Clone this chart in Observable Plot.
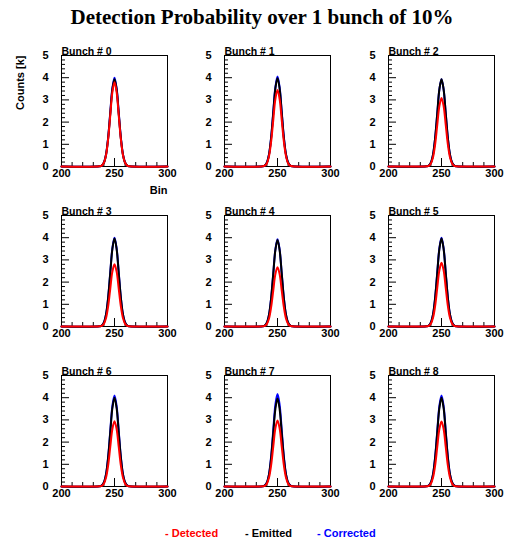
<!DOCTYPE html>
<html>
<head>
<meta charset="utf-8">
<script src="https://cdn.jsdelivr.net/npm/d3@7"></script>
<script src="https://cdn.jsdelivr.net/npm/@observablehq/plot@0.6"></script>
<style>
  html, body { margin: 0; padding: 0; background: white; }
  #root { position: relative; width: 508px; height: 542px; overflow: hidden; background: white; }
  #title { position: absolute; left: 16px; width: 492px; top: 5px; text-align: center;
           font-family: "Liberation Serif", "Times New Roman", serif; font-weight: bold; font-size: 21px; color: #000; }
  .panel { position: absolute; }
  .leg { position: absolute; top: 527px; font-family: "Liberation Sans", Arial, sans-serif; font-weight: bold; font-size: 11px; white-space: nowrap; }
  svg text { font-weight: bold; }
</style>
</head>
<body>
<div id="root">
  <div id="title"></div>
</div>
<script>
// ---- data ----
const bins = [200, 236, 238, 240, 242, 244, 246, 248, 250, 252, 254, 256, 258, 260, 262, 264, 300];

const detected = [
  [0,0.01,0.04,0.17,0.51,1.23,2.30,3.35,3.80,3.35,2.30,1.23,0.51,0.17,0.04,0.01,0],
  [0,0.01,0.04,0.15,0.47,1.12,2.09,3.04,3.45,3.04,2.09,1.12,0.47,0.15,0.04,0.01,0],
  [0,0.01,0.03,0.14,0.42,1.00,1.87,2.72,3.08,2.72,1.87,1.00,0.42,0.14,0.03,0.01,0],
  [0,0.01,0.03,0.12,0.38,0.91,1.70,2.47,2.80,2.47,1.70,0.91,0.38,0.12,0.03,0.01,0],
  [0,0.01,0.03,0.12,0.36,0.87,1.62,2.36,2.67,2.36,1.62,0.87,0.36,0.12,0.03,0.01,0],
  [0,0.01,0.03,0.13,0.39,0.93,1.74,2.53,2.87,2.53,1.74,0.93,0.39,0.13,0.03,0.01,0],
  [0,0.01,0.03,0.13,0.40,0.95,1.78,2.59,2.94,2.59,1.78,0.95,0.40,0.13,0.03,0.01,0],
  [0,0.01,0.03,0.13,0.40,0.96,1.80,2.62,2.97,2.62,1.80,0.96,0.40,0.13,0.03,0.01,0],
  [0,0.01,0.03,0.13,0.40,0.95,1.78,2.59,2.93,2.59,1.78,0.95,0.40,0.13,0.03,0.01,0]
];

const emitted = [
  [0,0.01,0.04,0.17,0.53,1.28,2.38,3.47,3.93,3.47,2.38,1.28,0.53,0.17,0.04,0.01,0],
  [0,0.01,0.04,0.17,0.54,1.29,2.41,3.51,3.98,3.51,2.41,1.29,0.54,0.17,0.04,0.01,0],
  [0,0.01,0.04,0.17,0.53,1.28,2.38,3.47,3.93,3.47,2.38,1.28,0.53,0.17,0.04,0.01,0],
  [0,0.01,0.04,0.17,0.54,1.29,2.40,3.49,3.96,3.49,2.40,1.29,0.54,0.17,0.04,0.01,0],
  [0,0.01,0.04,0.17,0.53,1.27,2.37,3.44,3.90,3.44,2.37,1.27,0.53,0.17,0.04,0.01,0],
  [0,0.01,0.04,0.17,0.54,1.29,2.40,3.49,3.96,3.49,2.40,1.29,0.54,0.17,0.04,0.01,0],
  [0,0.01,0.04,0.18,0.54,1.30,2.43,3.53,4.00,3.53,2.43,1.30,0.54,0.18,0.04,0.01,0],
  [0,0.01,0.04,0.17,0.54,1.29,2.40,3.49,3.96,3.49,2.40,1.29,0.54,0.17,0.04,0.01,0],
  [0,0.01,0.04,0.18,0.54,1.30,2.43,3.53,4.00,3.53,2.43,1.30,0.54,0.18,0.04,0.01,0]
];

const corrected = [
  [0,0.01,0.04,0.18,0.54,1.30,2.43,3.53,4.00,3.53,2.43,1.30,0.54,0.18,0.04,0.01,0],
  [0,0.01,0.04,0.18,0.55,1.32,2.46,3.57,4.05,3.57,2.46,1.32,0.55,0.18,0.04,0.01,0],
  [0,0.01,0.04,0.17,0.53,1.28,2.38,3.47,3.93,3.47,2.38,1.28,0.53,0.17,0.04,0.01,0],
  [0,0.01,0.04,0.18,0.54,1.30,2.43,3.53,4.00,3.53,2.43,1.30,0.54,0.18,0.04,0.01,0],
  [0,0.01,0.04,0.17,0.53,1.28,2.38,3.47,3.93,3.47,2.38,1.28,0.53,0.17,0.04,0.01,0],
  [0,0.01,0.04,0.18,0.54,1.30,2.43,3.53,4.00,3.53,2.43,1.30,0.54,0.18,0.04,0.01,0],
  [0,0.01,0.05,0.18,0.55,1.33,2.49,3.62,4.10,3.62,2.49,1.33,0.55,0.18,0.05,0.01,0],
  [0,0.01,0.05,0.18,0.56,1.35,2.53,3.68,4.17,3.68,2.53,1.35,0.56,0.18,0.05,0.01,0],
  [0,0.01,0.05,0.18,0.55,1.33,2.49,3.62,4.10,3.62,2.49,1.33,0.55,0.18,0.05,0.01,0]
];

const seriesNames = ["Detected", "Emitted", "Corrected"];
const seriesColors = ["#ff0000", "#000000", "#0000ff"];
const xMajor = [200, 250, 300];
const xMinor = [210, 220, 230, 240, 260, 270, 280, 290];
const yMajor = [0, 1, 2, 3, 4, 5];
const yMinor = [0.2,0.4,0.6,0.8,1.2,1.4,1.6,1.8,2.2,2.4,2.6,2.8,3.2,3.4,3.6,3.8,4.2,4.4,4.6,4.8];
const titleText = "Detection Probability over 1 bunch of 10%";
const xLabel = "Bin";
const yLabel = "Counts [k]";

// ---- layout ----
const colLeft = [61, 224, 388];
const rowTop = [55, 215, 375];
const innerW = 106, innerH = 111;
const mL = 48, mR = 14, mT = 18, mB = 34;

const root = document.getElementById("root");
document.getElementById("title").textContent = titleText;

function panel(i) {
  const rows = [];
  // draw order: corrected (blue), emitted (black), detected (red)
  [[corrected, 2], [emitted, 1], [detected, 0]].forEach(([arr, s]) => {
    bins.forEach((b, j) => rows.push({bin: b, v: arr[i][j], s: seriesNames[s]}));
  });
  const marks = [
    Plot.frame({stroke: "#000", strokeWidth: 1}),
    Plot.tickX(xMinor, {x: d => d, insetTop: innerH - 4, stroke: "#000"}),
    Plot.tickX(xMajor, {x: d => d, insetTop: innerH - 8, stroke: "#000"}),
    Plot.tickY(yMinor, {y: d => d, insetRight: innerW - 4, stroke: "#000"}),
    Plot.tickY(yMajor, {y: d => d, insetRight: innerW - 8, stroke: "#000"}),
    Plot.axisX({ticks: xMajor, tickFormat: d3.format("d"), tickSize: 0, tickPadding: 3, label: null, fontSize: 11, fontWeight: "bold"}),
    Plot.axisY({ticks: yMajor, tickFormat: d3.format("d"), tickSize: 0, tickPadding: 13, label: null, fontSize: 11, fontWeight: "bold"}),
    Plot.line(rows, {x: "bin", y: "v", z: "s", stroke: "s", strokeWidth: 2, curve: "catmull-rom"}),
    Plot.text([`Bunch # ${i}`], {frameAnchor: "top-left", textAnchor: "start", lineAnchor: "bottom", dy: -1, fontSize: 10.5, fontWeight: "bold"})
  ];
  if (i === 0) {
    marks.push(Plot.text([xLabel], {frameAnchor: "bottom-right", textAnchor: "end", lineAnchor: "middle", dy: 24, fontSize: 11, fontWeight: "bold"}));
    marks.push(Plot.text([yLabel], {frameAnchor: "top-left", textAnchor: "end", lineAnchor: "middle", rotate: -90, dx: -41, fontSize: 11, fontWeight: "bold"}));
  }
  return Plot.plot({
    width: mL + innerW + mR,
    height: mT + innerH + mB,
    marginLeft: mL, marginRight: mR, marginTop: mT, marginBottom: mB,
    x: {domain: [200, 300]},
    y: {domain: [0, 5]},
    color: {domain: seriesNames, range: seriesColors},
    style: {fontFamily: "Liberation Sans, Arial, sans-serif", fontSize: "11px", fontWeight: "bold", background: "transparent", overflow: "visible", color: "#000"},
    marks
  });
}

for (let i = 0; i < 9; i++) {
  const svg = panel(i);
  const wrap = document.createElement("div");
  wrap.className = "panel";
  wrap.style.left = (colLeft[i % 3] - mL) + "px";
  wrap.style.top = (rowTop[Math.floor(i / 3)] - mT) + "px";
  wrap.appendChild(svg);
  root.appendChild(wrap);
}

// legend
const legLeft = [165, 245, 317];
seriesNames.forEach((name, k) => {
  const sp = document.createElement("div");
  sp.className = "leg";
  sp.style.left = legLeft[k] + "px";
  sp.style.color = seriesColors[k];
  sp.textContent = "- " + name;
  root.appendChild(sp);
});
</script>
</body>
</html>
